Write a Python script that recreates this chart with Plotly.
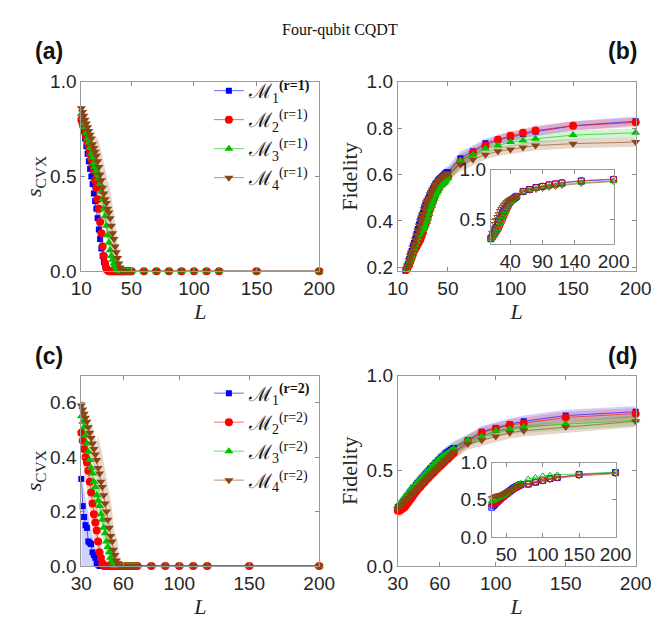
import plotly.graph_objects as go

# ---------------- data ----------------
TAIL_AB = [60, 70, 80, 90, 100, 110, 120, 150, 200]
TAIL_CD = [80, 90, 100, 110, 120, 150, 200]

LA = list(range(10, 51)) + TAIL_AB
LB = list(range(16, 51)) + TAIL_AB
LBI = list(range(10, 51, 2)) + TAIL_AB
LC = list(range(30, 71)) + TAIL_CD
LD = list(range(30, 71)) + TAIL_CD
LDI = list(range(30, 71, 2)) + TAIL_CD

# panel (a): s_CVX, r=1
A_M1 = [0.80, 0.77, 0.74, 0.70, 0.66, 0.62, 0.58, 0.54, 0.50, 0.46,
        0.41, 0.37, 0.33, 0.28, 0.22, 0.17, 0.12, 0.08, 0.05, 0.03,
        0.01, 0.005, 0, 0, 0, 0, 0, 0, 0, 0,
        0, 0, 0, 0, 0, 0, 0, 0, 0, 0, 0,
        0, 0, 0, 0, 0, 0, 0, 0, 0]
A_M2 = [0.80, 0.78, 0.76, 0.73, 0.71, 0.68, 0.65, 0.62, 0.59, 0.56,
        0.53, 0.48, 0.44, 0.38, 0.33, 0.26, 0.20, 0.13, 0.08, 0.04,
        0.015, 0.005, 0, 0, 0, 0, 0, 0, 0, 0,
        0, 0, 0, 0, 0, 0, 0, 0, 0, 0, 0,
        0, 0, 0, 0, 0, 0, 0, 0, 0]
A_M3 = [0.83, 0.81, 0.78, 0.76, 0.73, 0.70, 0.68, 0.65, 0.62, 0.60,
        0.57, 0.55, 0.53, 0.51, 0.49, 0.46, 0.42, 0.38, 0.33, 0.29,
        0.24, 0.19, 0.15, 0.11, 0.08, 0.06, 0.04, 0.03, 0.02, 0.01,
        0.005, 0, 0, 0, 0, 0, 0, 0, 0, 0, 0,
        0, 0, 0, 0, 0, 0, 0, 0, 0]
A_M4 = [0.86, 0.84, 0.82, 0.80, 0.78, 0.76, 0.74, 0.72, 0.70, 0.67,
        0.65, 0.63, 0.61, 0.58, 0.55, 0.51, 0.48, 0.44, 0.41, 0.38,
        0.36, 0.33, 0.31, 0.28, 0.24, 0.20, 0.17, 0.13, 0.10, 0.07,
        0.04, 0.02, 0.005, 0, 0, 0, 0, 0, 0, 0, 0,
        0, 0, 0, 0, 0, 0, 0, 0, 0]
A_M1_SD = [0.02, 0.02, 0.02, 0.02, 0.02, 0.04, 0.04, 0.04, 0.04, 0.04,
           0.07, 0.07, 0.07, 0.07, 0.07, 0.07, 0.07, 0.07, 0.05, 0.04,
           0.03, 0.02, 0.01, 0, 0, 0, 0, 0, 0, 0,
           0, 0, 0, 0, 0, 0, 0, 0, 0, 0, 0,
           0, 0, 0, 0, 0, 0, 0, 0, 0]
A_M2_SD = [0.02, 0.02, 0.02, 0.03, 0.04, 0.05, 0.06, 0.07, 0.08, 0.08,
           0.08, 0.08, 0.08, 0.08, 0.08, 0.08, 0.08, 0.07, 0.05, 0.04,
           0.02, 0.01, 0, 0, 0, 0, 0, 0, 0, 0,
           0, 0, 0, 0, 0, 0, 0, 0, 0, 0, 0,
           0, 0, 0, 0, 0, 0, 0, 0, 0]
A_M3_SD = [0.02, 0.02, 0.02, 0.02, 0.02, 0.02, 0.02, 0.02, 0.02, 0.02,
           0.03, 0.04, 0.05, 0.06, 0.07, 0.07, 0.07, 0.07, 0.07, 0.07,
           0.07, 0.07, 0.07, 0.07, 0.07, 0.06, 0.04, 0.04, 0.03, 0.02,
           0.02, 0.01, 0.01, 0.01, 0.005, 0.005, 0.005, 0.005, 0.005, 0.005, 0.005,
           0, 0, 0, 0, 0, 0, 0, 0, 0]
A_M4_SD = [0.02, 0.02, 0.02, 0.02, 0.02, 0.02, 0.02, 0.02, 0.04, 0.05,
           0.06, 0.08, 0.10, 0.12, 0.14, 0.15, 0.15, 0.15, 0.15, 0.15,
           0.15, 0.15, 0.15, 0.15, 0.15, 0.15, 0.14, 0.12, 0.10, 0.08,
           0.06, 0.04, 0.03, 0.02, 0.01, 0, 0, 0, 0, 0, 0,
           0, 0, 0, 0, 0, 0, 0, 0, 0]

# panel (b): fidelity, r=1
B_M1 = [0.185, 0.20, 0.215, 0.235, 0.255, 0.27, 0.29, 0.305, 0.325, 0.345,
        0.365, 0.385, 0.405, 0.42, 0.435, 0.455, 0.47, 0.485, 0.495, 0.505,
        0.52, 0.53, 0.54, 0.55, 0.56, 0.565, 0.575, 0.58, 0.585, 0.59,
        0.595, 0.60, 0.605, 0.61, 0.61,
        0.67, 0.70, 0.735, 0.75, 0.762, 0.775, 0.785, 0.81, 0.83]
B_M2 = [0.18, 0.19, 0.20, 0.21, 0.225, 0.24, 0.255, 0.27, 0.28, 0.29,
        0.30, 0.31, 0.32, 0.335, 0.35, 0.37, 0.385, 0.40, 0.42, 0.44,
        0.455, 0.47, 0.485, 0.50, 0.515, 0.525, 0.535, 0.545, 0.555, 0.56,
        0.565, 0.57, 0.58, 0.585, 0.59,
        0.655, 0.695, 0.725, 0.75, 0.767, 0.78, 0.79, 0.81, 0.825]
B_M3 = [0.18, 0.19, 0.205, 0.22, 0.235, 0.25, 0.265, 0.28, 0.295, 0.31,
        0.325, 0.34, 0.35, 0.36, 0.365, 0.37, 0.38, 0.395, 0.41, 0.43,
        0.45, 0.465, 0.48, 0.495, 0.51, 0.52, 0.53, 0.54, 0.55, 0.555,
        0.56, 0.565, 0.57, 0.58, 0.585,
        0.66, 0.685, 0.712, 0.725, 0.74, 0.747, 0.754, 0.77, 0.78]
B_M4 = [0.18, 0.195, 0.21, 0.23, 0.25, 0.265, 0.285, 0.30, 0.32, 0.34,
        0.36, 0.38, 0.40, 0.415, 0.43, 0.45, 0.465, 0.48, 0.49, 0.50,
        0.515, 0.525, 0.535, 0.545, 0.555, 0.56, 0.57, 0.575, 0.58, 0.585,
        0.59, 0.595, 0.60, 0.60, 0.605,
        0.643, 0.665, 0.685, 0.70, 0.708, 0.716, 0.725, 0.733, 0.74]
B_SD = [0.01, 0.01, 0.01, 0.015, 0.015, 0.02, 0.02, 0.02, 0.02, 0.02,
        0.025, 0.025, 0.025, 0.025, 0.025, 0.025, 0.025, 0.025, 0.025, 0.025,
        0.025, 0.025, 0.025, 0.025, 0.025, 0.025, 0.025, 0.025, 0.025, 0.025,
        0.025, 0.025, 0.025, 0.025, 0.025,
        0.03, 0.025, 0.02, 0.02, 0.02, 0.02, 0.02, 0.02, 0.02]

# inset of (b)
BI_M1 = [0.30, 0.32, 0.35, 0.38, 0.41, 0.44, 0.47, 0.50, 0.53, 0.56,
         0.58, 0.60, 0.62, 0.64, 0.66, 0.68, 0.69, 0.70, 0.71, 0.72, 0.73,
         0.78, 0.80, 0.82, 0.83, 0.845, 0.855, 0.865, 0.885, 0.90]
BI_M2 = [0.30, 0.31, 0.32, 0.34, 0.36, 0.38, 0.40, 0.43, 0.46, 0.49,
         0.52, 0.55, 0.58, 0.61, 0.64, 0.66, 0.68, 0.695, 0.71, 0.72, 0.73,
         0.78, 0.80, 0.82, 0.835, 0.85, 0.86, 0.87, 0.89, 0.905]
BI_M3 = [0.30, 0.315, 0.33, 0.35, 0.37, 0.40, 0.43, 0.46, 0.49, 0.52,
         0.55, 0.58, 0.61, 0.63, 0.65, 0.67, 0.685, 0.70, 0.71, 0.72, 0.73,
         0.775, 0.795, 0.81, 0.82, 0.83, 0.84, 0.85, 0.87, 0.885]
BI_M4 = [0.31, 0.36, 0.41, 0.45, 0.49, 0.52, 0.55, 0.58, 0.60, 0.62,
         0.64, 0.655, 0.67, 0.68, 0.69, 0.70, 0.705, 0.71, 0.715, 0.72, 0.725,
         0.77, 0.79, 0.80, 0.81, 0.82, 0.83, 0.84, 0.86, 0.88]

# panel (c): s_CVX, r=2
C_M1 = [0.32, 0.22, 0.18, 0.15, 0.14, 0.09, 0.085, 0.08, 0.05, 0.04,
        0.03, 0.01, 0.005, 0, 0, 0, 0, 0, 0, 0,
        0, 0, 0, 0, 0, 0, 0, 0, 0, 0,
        0, 0, 0, 0, 0, 0, 0, 0, 0, 0, 0,
        0, 0, 0, 0, 0, 0, 0]
C_M1_HI = [0.33, 0.30, 0.27, 0.245, 0.22, 0.19, 0.165, 0.14, 0.11, 0.085,
           0.06, 0.035, 0.015, 0.005, 0, 0, 0, 0, 0, 0,
           0, 0, 0, 0, 0, 0, 0, 0, 0, 0,
           0, 0, 0, 0, 0, 0, 0, 0, 0, 0, 0,
           0, 0, 0, 0, 0, 0, 0]
C_M1_LO = [0, 0, 0, 0, 0, 0, 0, 0, 0, 0,
           0, 0, 0, 0, 0, 0, 0, 0, 0, 0,
           0, 0, 0, 0, 0, 0, 0, 0, 0, 0,
           0, 0, 0, 0, 0, 0, 0, 0, 0, 0, 0,
           0, 0, 0, 0, 0, 0, 0]
C_M2 = [0.49, 0.46, 0.43, 0.40, 0.38, 0.35, 0.31, 0.27, 0.23, 0.19,
        0.16, 0.13, 0.09, 0.05, 0.03, 0.01, 0, 0, 0, 0,
        0, 0, 0, 0, 0, 0, 0, 0, 0, 0,
        0, 0, 0, 0, 0, 0, 0, 0, 0, 0, 0,
        0, 0, 0, 0, 0, 0, 0]
C_M3 = [0.55, 0.53, 0.51, 0.48, 0.45, 0.42, 0.39, 0.36, 0.34, 0.31,
        0.29, 0.26, 0.24, 0.22, 0.19, 0.17, 0.14, 0.12, 0.09, 0.07,
        0.05, 0.03, 0.02, 0.01, 0, 0, 0, 0, 0, 0,
        0, 0, 0, 0, 0, 0, 0, 0, 0, 0, 0,
        0, 0, 0, 0, 0, 0, 0]
C_M4 = [0.59, 0.575, 0.56, 0.545, 0.53, 0.51, 0.49, 0.47, 0.45, 0.43,
        0.41, 0.39, 0.36, 0.34, 0.31, 0.29, 0.26, 0.23, 0.20, 0.17,
        0.14, 0.11, 0.09, 0.06, 0.04, 0.02, 0.01, 0, 0, 0,
        0, 0, 0, 0, 0, 0, 0, 0, 0, 0, 0,
        0, 0, 0, 0, 0, 0, 0]
C_M2_SD = [0.08, 0.08, 0.08, 0.08, 0.10, 0.10, 0.10, 0.10, 0.10, 0.10,
           0.10, 0.10, 0.10, 0.06, 0.04, 0.03, 0.02, 0.01, 0, 0,
           0, 0, 0, 0, 0, 0, 0, 0, 0, 0,
           0, 0, 0, 0, 0, 0, 0, 0, 0, 0, 0,
           0, 0, 0, 0, 0, 0, 0]
C_M3_SD = [0.04, 0.04, 0.04, 0.04, 0.04, 0.04, 0.07, 0.07, 0.07, 0.07,
           0.07, 0.07, 0.07, 0.07, 0.07, 0.07, 0.07, 0.07, 0.07, 0.07,
           0.07, 0.04, 0.04, 0.04, 0.04, 0.02, 0.02, 0.02, 0.02, 0.005,
           0.005, 0.005, 0.005, 0.005, 0.005, 0.005, 0.005, 0.005, 0.005, 0.005, 0.005,
           0, 0, 0, 0, 0, 0, 0]
C_M4_SD = [0.03, 0.03, 0.03, 0.03, 0.03, 0.03, 0.03, 0.06, 0.06, 0.06,
           0.06, 0.06, 0.12, 0.12, 0.12, 0.12, 0.12, 0.12, 0.12, 0.12,
           0.12, 0.12, 0.12, 0.08, 0.08, 0.08, 0.08, 0.03, 0.03, 0.005,
           0.005, 0.005, 0.005, 0.005, 0.005, 0.005, 0.005, 0.005, 0.005, 0.005, 0.005,
           0, 0, 0, 0, 0, 0, 0]

# panel (d): fidelity, r=2
D_M1 = [0.31, 0.315, 0.32, 0.33, 0.34, 0.35, 0.36, 0.37, 0.38, 0.39,
        0.40, 0.41, 0.415, 0.425, 0.435, 0.44, 0.45, 0.46, 0.465, 0.475,
        0.485, 0.49, 0.50, 0.51, 0.515, 0.525, 0.53, 0.54, 0.545, 0.555,
        0.56, 0.57, 0.575, 0.58, 0.59, 0.595, 0.60, 0.605, 0.61, 0.615, 0.62,
        0.66, 0.705, 0.725, 0.745, 0.76, 0.79, 0.81]
D_M2 = [0.29, 0.29, 0.295, 0.30, 0.305, 0.31, 0.32, 0.33, 0.34, 0.35,
        0.36, 0.37, 0.38, 0.39, 0.40, 0.41, 0.415, 0.425, 0.435, 0.44,
        0.45, 0.46, 0.465, 0.475, 0.48, 0.49, 0.495, 0.505, 0.51, 0.52,
        0.525, 0.53, 0.54, 0.545, 0.555, 0.56, 0.565, 0.575, 0.58, 0.59, 0.595,
        0.655, 0.70, 0.72, 0.74, 0.75, 0.78, 0.80]
D_M3 = [0.315, 0.32, 0.33, 0.34, 0.35, 0.36, 0.37, 0.38, 0.385, 0.395,
        0.405, 0.415, 0.42, 0.43, 0.44, 0.445, 0.455, 0.46, 0.47, 0.48,
        0.485, 0.495, 0.50, 0.51, 0.52, 0.525, 0.535, 0.54, 0.55, 0.555,
        0.56, 0.57, 0.575, 0.58, 0.585, 0.59, 0.595, 0.60, 0.605, 0.61, 0.615,
        0.66, 0.68, 0.71, 0.72, 0.73, 0.745, 0.765]
D_M4 = [0.30, 0.31, 0.315, 0.32, 0.33, 0.34, 0.345, 0.355, 0.36, 0.37,
        0.38, 0.385, 0.39, 0.40, 0.41, 0.415, 0.42, 0.43, 0.44, 0.445,
        0.455, 0.46, 0.47, 0.475, 0.485, 0.49, 0.50, 0.505, 0.51, 0.52,
        0.525, 0.535, 0.54, 0.55, 0.555, 0.56, 0.57, 0.575, 0.585, 0.59, 0.60,
        0.64, 0.66, 0.68, 0.70, 0.71, 0.73, 0.76]
D_SD = [0.035, 0.035, 0.035, 0.035, 0.035, 0.035, 0.035, 0.035, 0.035, 0.035,
        0.035, 0.035, 0.035, 0.035, 0.035, 0.035, 0.035, 0.035, 0.035, 0.035,
        0.035, 0.035, 0.035, 0.035, 0.035, 0.035, 0.035, 0.035, 0.035, 0.035,
        0.035, 0.035, 0.035, 0.035, 0.035, 0.035, 0.035, 0.035, 0.035, 0.035, 0.035,
        0.03, 0.03, 0.03, 0.03, 0.03, 0.03, 0.03]

# inset of (d)
DI_M1 = [0.40, 0.42, 0.44, 0.46, 0.48, 0.50, 0.52, 0.535, 0.55, 0.565,
         0.58, 0.595, 0.61, 0.625, 0.64, 0.655, 0.665, 0.675, 0.685, 0.695, 0.705,
         0.71, 0.735, 0.76, 0.785, 0.80, 0.84, 0.865]
DI_M2 = [0.44, 0.44, 0.45, 0.46, 0.47, 0.48, 0.50, 0.52, 0.54, 0.555,
         0.57, 0.585, 0.60, 0.615, 0.63, 0.645, 0.66, 0.67, 0.68, 0.69, 0.70,
         0.71, 0.735, 0.755, 0.78, 0.80, 0.835, 0.86]
DI_M3 = [0.48, 0.49, 0.50, 0.51, 0.52, 0.53, 0.54, 0.55, 0.56, 0.575,
         0.59, 0.60, 0.615, 0.63, 0.645, 0.66, 0.675, 0.69, 0.70, 0.71, 0.72,
         0.78, 0.80, 0.82, 0.83, 0.835, 0.85, 0.87]
DI_M4 = [0.52, 0.53, 0.54, 0.55, 0.555, 0.56, 0.565, 0.57, 0.58, 0.59,
         0.60, 0.61, 0.62, 0.63, 0.64, 0.65, 0.66, 0.67, 0.68, 0.69, 0.70,
         0.70, 0.73, 0.75, 0.77, 0.79, 0.82, 0.85]

NAMES_R1 = ["ℳ<sub>1</sub><sup><b>(r=1)</b></sup>", "ℳ<sub>2</sub><sup>(r=1)</sup>",
            "ℳ<sub>3</sub><sup>(r=1)</sup>", "ℳ<sub>4</sub><sup>(r=1)</sup>"]
NAMES_R2 = ["ℳ<sub>1</sub><sup><b>(r=2)</b></sup>", "ℳ<sub>2</sub><sup>(r=2)</sup>",
            "ℳ<sub>3</sub><sup>(r=2)</sup>", "ℳ<sub>4</sub><sup>(r=2)</sup>"]

# ---------------- style ----------------
COLORS = ["#0000FF", "#FF0000", "#00C000", "#8B4513"]
FILLS = ["rgba(0,0,255,0.18)", "rgba(255,0,0,0.18)", "rgba(0,192,0,0.18)", "rgba(139,69,19,0.22)"]
LINES = ["rgba(0,0,255,0.6)", "rgba(255,0,0,0.6)", "rgba(0,192,0,0.6)", "rgba(139,69,19,0.6)"]
SYMBOLS = ["square", "circle", "triangle-up", "triangle-down"]
MSIZE = [6, 8, 8, 8]

W, H = 659, 625
SANS = "Liberation Sans, Arial, sans-serif"
SERIF = "Liberation Serif, Times New Roman, serif"


def dom_x(a, b):
    return [a / W, b / W]


def dom_y(top, bottom):
    return [1 - bottom / H, 1 - top / H]


fig = go.Figure()


def band(x, lo, hi, color, xa, ya):
    fig.add_trace(go.Scatter(x=list(x) + list(x)[::-1], y=list(hi) + list(lo)[::-1],
                             fill="toself", fillcolor=color, line=dict(width=0),
                             mode="lines", showlegend=False, hoverinfo="skip",
                             xaxis=xa, yaxis=ya))


def sd_band(x, m, sd, color, xa, ya, top=1.0):
    lo = [max(0.0, a - s) for a, s in zip(m, sd)]
    hi = [min(top, a + s) for a, s in zip(m, sd)]
    band(x, lo, hi, color, xa, ya)


def series(x, y, i, xa, ya, name=None, legend=None, open_marker=False, msize=None):
    sym = SYMBOLS[i] + ("-open" if open_marker else "")
    fig.add_trace(go.Scatter(
        x=x, y=y, mode="lines+markers", name=name,
        showlegend=name is not None, legend=legend,
        line=dict(color=LINES[i], width=1),
        marker=dict(symbol=sym, size=msize or MSIZE[i], color=COLORS[i],
                    line=dict(width=1 if open_marker else 0, color=COLORS[i])),
        cliponaxis=False, xaxis=xa, yaxis=ya))


# (a)
for i, (m, sd) in enumerate([(A_M1, A_M1_SD), (A_M2, A_M2_SD), (A_M3, A_M3_SD), (A_M4, A_M4_SD)]):
    sd_band(LA, m, sd, FILLS[i], "x", "y")
for i, m in enumerate([A_M1, A_M2, A_M3, A_M4]):
    series(LA, m, i, "x", "y", name=NAMES_R1[i], legend="legend")

# (b)
for i, m in enumerate([B_M1, B_M2, B_M3, B_M4]):
    sd_band(LB, m, B_SD, FILLS[i], "x2", "y2")
for i, m in enumerate([B_M1, B_M2, B_M3, B_M4]):
    series(LB, m, i, "x2", "y2")

# inset (b)
for i, m in enumerate([BI_M1, BI_M2, BI_M3, BI_M4]):
    series(LBI, m, i, "x5", "y5", open_marker=True, msize=6)

# (c)
band(LC, C_M1_LO, C_M1_HI, FILLS[0], "x3", "y3")
for i, (m, sd) in enumerate([(C_M2, C_M2_SD), (C_M3, C_M3_SD), (C_M4, C_M4_SD)], start=1):
    sd_band(LC, m, sd, FILLS[i], "x3", "y3")
for i, m in enumerate([C_M1, C_M2, C_M3, C_M4]):
    series(LC, m, i, "x3", "y3", name=NAMES_R2[i], legend="legend2")

# (d)
for i, m in enumerate([D_M1, D_M2, D_M3, D_M4]):
    sd_band(LD, m, D_SD, FILLS[i], "x4", "y4")
for i, m in enumerate([D_M1, D_M2, D_M3, D_M4]):
    series(LD, m, i, "x4", "y4")

# inset (d)
for i, m in enumerate([DI_M1, DI_M2, DI_M3, DI_M4]):
    series(LDI, m, i, "x6", "y6", open_marker=True, msize=6)

# ---------------- axes ----------------
common = dict(showline=True, linecolor="#9a9a9a", linewidth=1, mirror="ticks",
              ticks="inside", ticklen=4, tickcolor="#8a8a8a", showgrid=False,
              zeroline=False, tickfont=dict(family=SANS, size=19, color="#262626"))
xtitle = dict(text="<i>L</i>", font=dict(family=SERIF, size=22, color="#262626"), standoff=0)
ytitle_font = dict(family=SERIF, size=22, color="#262626")

fig.update_layout(
    xaxis=dict(domain=dom_x(65, 313), range=[10, 200], tickvals=[10, 50, 100, 150, 200],
               anchor="y", title=xtitle, **common),
    yaxis=dict(domain=dom_y(66, 262), range=[0, 1], tickvals=[0, 0.5, 1.0], tickformat=".1f",
               anchor="x", title=dict(text="<i>s</i><sub>CVX</sub>", font=ytitle_font, standoff=2),
               **common),
    xaxis2=dict(domain=dom_x(395, 643), range=[10, 200], tickvals=[10, 50, 100, 150, 200],
                anchor="y2", title=xtitle, **common),
    yaxis2=dict(domain=dom_y(66, 262), range=[0.183, 1.0], tickvals=[0.2, 0.4, 0.6, 0.8, 1.0],
                tickformat=".1f", anchor="x2",
                title=dict(text="Fidelity", font=ytitle_font, standoff=2), **common),
    xaxis3=dict(domain=dom_x(65, 313), range=[30, 200], tickvals=[30, 60, 100, 150, 200],
                anchor="y3", title=xtitle, **common),
    yaxis3=dict(domain=dom_y(370, 567), range=[0, 0.7], tickvals=[0, 0.2, 0.4, 0.6], tickformat=".1f",
                anchor="x3", title=dict(text="<i>s</i><sub>CVX</sub>", font=ytitle_font, standoff=2),
                **common),
    xaxis4=dict(domain=dom_x(395, 643), range=[30, 200], tickvals=[30, 60, 100, 150, 200],
                anchor="y4", title=xtitle, **common),
    yaxis4=dict(domain=dom_y(370, 567), range=[0, 1], tickvals=[0, 0.5, 1.0], tickformat=".1f",
                anchor="x4", title=dict(text="Fidelity", font=ytitle_font, standoff=2), **common),
    xaxis5=dict(domain=dom_x(492, 620), range=[10, 200], tickvals=[40, 90, 140, 200],
                anchor="y5", **common),
    yaxis5=dict(domain=dom_y(157, 234), range=[0.245, 1.0], tickvals=[0.5, 1.0], tickformat=".1f",
                anchor="x5", **common),
    xaxis6=dict(domain=dom_x(493, 622), range=[30, 200], tickvals=[50, 100, 150, 200],
                anchor="y6", **common),
    yaxis6=dict(domain=dom_y(460, 537), range=[0, 1], tickvals=[0, 0.5, 1.0], tickformat=".1f",
                anchor="x6", **common),
)

legend_common = dict(bgcolor="rgba(0,0,0,0)", borderwidth=0, xanchor="left", yanchor="top",
                     font=dict(family=SERIF, size=20, color="#111"), tracegroupgap=0,
                     itemwidth=30)
fig.update_layout(
    legend=dict(x=198 / W, y=1 - 55 / H, **legend_common),
    legend2=dict(x=198 / W, y=1 - 368 / H, **legend_common),
)

annotations = [
    dict(text="Four-qubit CQDT", x=335 / W, y=1 - 12 / H, xref="paper", yref="paper",
         showarrow=False, font=dict(family=SERIF, size=16, color="#111"), xanchor="center", yanchor="middle"),
    dict(text="<b>(a)</b>", x=15 / W, y=1 - 34 / H, xref="paper", yref="paper", showarrow=False,
         font=dict(family=SANS, size=23, color="#111"), xanchor="left", yanchor="middle"),
    dict(text="<b>(b)</b>", x=646 / W, y=1 - 34 / H, xref="paper", yref="paper", showarrow=False,
         font=dict(family=SANS, size=23, color="#111"), xanchor="right", yanchor="middle"),
    dict(text="<b>(c)</b>", x=15 / W, y=1 - 350 / H, xref="paper", yref="paper", showarrow=False,
         font=dict(family=SANS, size=23, color="#111"), xanchor="left", yanchor="middle"),
    dict(text="<b>(d)</b>", x=646 / W, y=1 - 350 / H, xref="paper", yref="paper", showarrow=False,
         font=dict(family=SANS, size=23, color="#111"), xanchor="right", yanchor="middle"),
]

fig.update_layout(
    width=W, height=H, margin=dict(l=0, r=0, t=0, b=0),
    paper_bgcolor="white", plot_bgcolor="white",
    annotations=annotations, showlegend=True,
)

fig.write_html("out.html")
